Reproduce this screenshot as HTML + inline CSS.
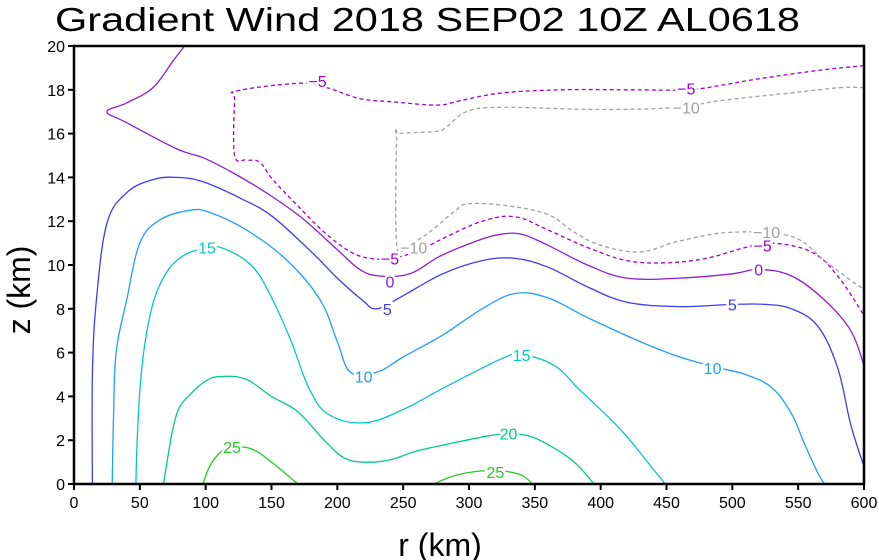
<!DOCTYPE html>
<html><head><meta charset="utf-8"><style>
html,body{margin:0;padding:0;background:#fff;}
svg{display:block;font-family:"Liberation Sans",sans-serif;}
</style></head><body>
<svg id="chart" width="879" height="560" viewBox="0 0 879 560">
<text x="55" y="31" font-size="33" textLength="745" lengthAdjust="spacingAndGlyphs" fill="#000">Gradient Wind 2018 SEP02 10Z  AL0618</text>
<g id="plot"></g>
<g id="axes"></g>
<text x="440" y="556" font-size="32" text-anchor="middle">r (km)</text>
<text transform="translate(30,290) rotate(-90)" font-size="32" text-anchor="middle">z (km)</text>
</svg>
<script>
const xTicks=[0,50,100,150,200,250,300,350,400,450,500,550,600];
const yTicks=[0,2,4,6,8,10,12,14,16,18,20];
const levels=[25,25,20,15,10,5,0,-5,-10,-10];
const levelColors=["#22cc22","#22cc22","#00cc88","#00c8c8","#1e9eff","#3c3cf0","#8c1ed6","#a000c8","#a0a0a0","#a0a0a0"];
const c25a=[[98,0],[103,0.8],[112,1.5],[120,1.7],[135,1.6],[150,1.0],[170,0]];
const c25b=[[273,0],[290,0.4],[310,0.6],[325,0.6],[340,0.4],[348,0]];
const c20=[[68,0],[72,1.5],[75,2.5],[80,3.5],[90,4.2],[100,4.7],[110,4.9],[130,4.8],[150,4.0],[170,3.3],[190,2.0],[205,1.2],[220,1.0],[240,1.1],[260,1.5],[290,1.9],[315,2.2],[330,2.3],[345,2.2],[360,1.8],[380,1.0],[395,0]];
const c15=[[47,0],[48,2],[51,5],[57,7.5],[66,9.2],[80,10.3],[101,10.8],[116,10.7],[136,9.9],[151,8.4],[165,6.5],[179,4.3],[194,3.15],[221,2.8],[250,3.4],[278,4.3],[324,5.7],[340,5.9],[365,5.4],[384,4.3],[415,2.5],[441,0.6],[449,0]];
const c10=[[29,0],[30,3],[32,6],[40,8.4],[50,11.0],[65,12.05],[88,12.5],[103,12.4],[131,11.6],[162,10.2],[187,8.4],[200,6.5],[210,5.1],[230,5.1],[250,5.8],[280,6.8],[310,8.0],[335,8.7],[360,8.5],[390,7.6],[430,6.5],[460,5.8],[490,5.3],[510,5.0],[530,4.4],[545,3.2],[555,1.8],[565,0.5],[570,0]];
const c5=[[14,0],[14,5],[17,8.4],[25,11.9],[40,13.3],[60,13.9],[78,14.0],[98,13.8],[128,13.0],[151,12.2],[182,10.5],[200,9.4],[219,8.4],[230,8.0],[250,8.6],[280,9.6],[310,10.2],[335,10.3],[360,9.9],[390,9.0],[420,8.3],[460,8.1],[500,8.2],[525,8.2],[545,8.0],[565,7.2],[580,5.3],[590,2.7],[600,0.8]];
const c0=[[84,20],[75,19.3],[60,18.1],[40,17.4],[25,17.0],[40,16.5],[78,15.3],[98,14.9],[121,14.2],[146,13.3],[172,12.2],[200,10.7],[217,9.8],[232,9.5],[255,9.6],[278,10.4],[306,11.1],[324,11.4],[340,11.4],[360,10.9],[390,10.0],[420,9.4],[460,9.4],[500,9.6],[520,9.8],[545,9.5],[570,8.4],[590,7.0],[600,5.4]];
const cm5=[[600,19.1],[567,18.9],[520,18.5],[491,18.2],[465,18.0],[420,18.0],[370,18.0],[324,17.85],[293,17.5],[276,17.3],[242,17.45],[217,17.6],[192,18.1],[172,18.3],[124,17.95],[122,17.5],[122,15.0],[131,14.8],[141,14.7],[151,13.9],[170,12.7],[190,11.5],[210,10.6],[225,10.3],[240,10.3],[260,10.6],[280,11.2],[310,12.0],[335,12.2],[360,11.6],[390,10.8],[420,10.2],[450,10.1],[480,10.3],[510,10.8],[530,11.0],[560,10.6],[580,9.5],[600,7.7]];
const cm10a=[[600,18.1],[582,18.1],[551,17.9],[490,17.5],[460,17.2],[400,17.1],[324,17.2],[298,17.0],[283,16.3],[275,16.1],[247,16.0],[245,15.8],[245,11.0],[252,10.8]];
const cm10b=[[252,10.8],[270,11.5],[290,12.5],[300,12.8],[330,12.7],[360,12.3],[380,11.5],[400,10.9],[430,10.6],[460,11.1],[500,11.5],[545,11.3],[570,10.2],[590,9.3],[600,8.9]];
const contours=[c25a,c25b,c20,c15,c10,c5,c0,cm5,cm10a,cm10b];
const labelPos=[[120,1.7],[320,0.55],[330,2.3],[101,10.8],[220,4.9],[238,8.0],[240,9.25],[240,10.3],[258,10.8],[465,17.2]];
const extraLabels=[[5,500,8.2],[10,485,5.3],[15,340,5.9],[0,520,9.8],[-5,523,10.9],[-10,526,11.5],[-5,185,18.4],[-5,465,18.05]];
const ns="http://www.w3.org/2000/svg";
const X0=74,X1=864,Y0=484,Y1=46;
function sx(r){return X0+(r/600)*(X1-X0);}
function sy(z){return Y0-(z/20)*(Y0-Y1);}
function fmt(v){return v<0?"\u2212"+(-v):String(v);}
function smoothPath(pts){
  const P=pts.map(q=>[sx(q[0]),sy(q[1])]);
  let d='M'+P[0][0].toFixed(1)+','+P[0][1].toFixed(1);
  for(let i=0;i<P.length-1;i++){
    const p0=P[Math.max(i-1,0)],p1=P[i],p2=P[i+1],p3=P[Math.min(i+2,P.length-1)];
    const t=0.18;
    const c1=[p1[0]+(p2[0]-p0[0])*t,p1[1]+(p2[1]-p0[1])*t];
    const c2=[p2[0]-(p3[0]-p1[0])*t,p2[1]-(p3[1]-p1[1])*t];
    d+='C'+c1[0].toFixed(1)+','+c1[1].toFixed(1)+' '+c2[0].toFixed(1)+','+c2[1].toFixed(1)+' '+p2[0].toFixed(1)+','+p2[1].toFixed(1);
  }
  return d;
}
const plot=document.getElementById('plot');
const axes=document.getElementById('axes');
contours.forEach((pts,i)=>{
  const p=document.createElementNS(ns,'path');
  p.setAttribute('d',smoothPath(pts));
  p.setAttribute('fill','none');
  p.setAttribute('stroke',levelColors[i]);
  p.setAttribute('stroke-width','1.3');
  if(levels[i]<0)p.setAttribute('stroke-dasharray','4,3');
  
  
  plot.appendChild(p);
});
function addLabel(v,r,z,color){
  const t=document.createElementNS(ns,'text');
  t.setAttribute('x',sx(r));t.setAttribute('y',sy(z)+6);
  t.setAttribute('text-anchor','middle');t.setAttribute('font-size','16');
  t.setAttribute('fill',color);t.setAttribute('stroke','#fff');t.setAttribute('stroke-width','5');
  t.setAttribute('paint-order','stroke');
  t.textContent=fmt(v);
  
  
  plot.appendChild(t);
}
labelPos.forEach((q,i)=>addLabel(levels[i],q[0],q[1],levelColors[i]));
const colorOf={25:"#22cc22",20:"#00cc88",15:"#00c8c8",10:"#1e9eff",5:"#3c3cf0",0:"#8c1ed6","-5":"#a000c8","-10":"#a0a0a0"};
extraLabels.forEach(q=>addLabel(q[0],q[1],q[2],colorOf[q[0]]));
const frame=document.createElementNS(ns,'rect');
frame.setAttribute('x',X0);frame.setAttribute('y',Y1);frame.setAttribute('width',X1-X0);frame.setAttribute('height',Y0-Y1);
frame.setAttribute('fill','none');frame.setAttribute('stroke','#000');frame.setAttribute('stroke-width','2.5');


axes.appendChild(frame);
xTicks.forEach(v=>{
  const l=document.createElementNS(ns,'line');
  l.setAttribute('x1',sx(v));l.setAttribute('x2',sx(v));l.setAttribute('y1',Y0);l.setAttribute('y2',Y0+6);
  l.setAttribute('stroke','#000');l.setAttribute('stroke-width','2');
  
  
  axes.appendChild(l);
  const t=document.createElementNS(ns,'text');
  t.setAttribute('x',sx(v));t.setAttribute('y',Y0+24);t.setAttribute('text-anchor','middle');t.setAttribute('font-size','16');
  t.textContent=v;
  
  
  axes.appendChild(t);
});
yTicks.forEach(v=>{
  const l=document.createElementNS(ns,'line');
  l.setAttribute('x1',X0-6);l.setAttribute('x2',X0);l.setAttribute('y1',sy(v));l.setAttribute('y2',sy(v));
  l.setAttribute('stroke','#000');l.setAttribute('stroke-width','2');
  
  
  axes.appendChild(l);
  const t=document.createElementNS(ns,'text');
  t.setAttribute('x',X0-9);t.setAttribute('y',sy(v)+6);t.setAttribute('text-anchor','end');t.setAttribute('font-size','16');
  t.textContent=v;
  
  
  axes.appendChild(t);
});
</script>
</body></html>
